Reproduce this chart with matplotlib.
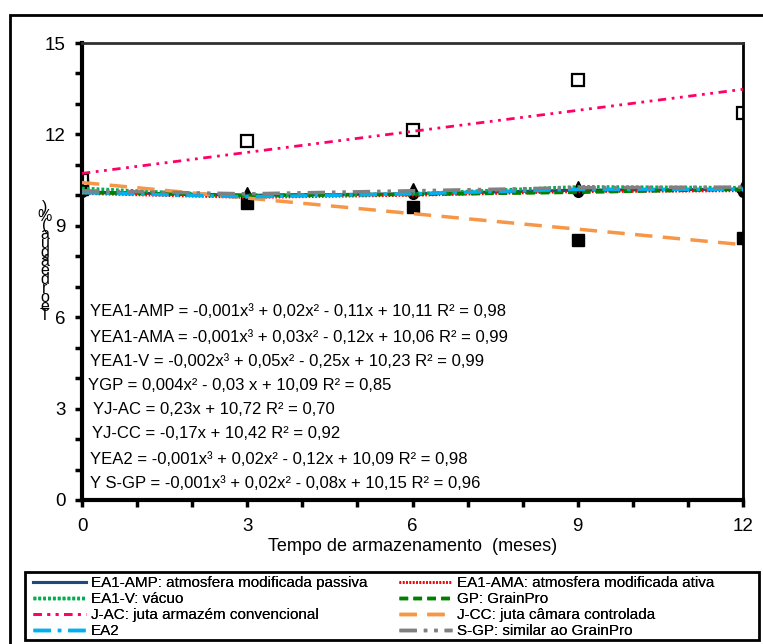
import numpy as np
import matplotlib
matplotlib.use("Agg")
import matplotlib.pyplot as plt
from matplotlib.patches import Rectangle
from matplotlib.ticker import MultipleLocator

plt.rcParams['font.family'] = ['Liberation Sans', 'DejaVu Sans']

# tempo de armazenamento (meses)
meses = [0, 3, 6, 9, 12]

# pontos observados (marcadores)
pts_jac = [10.5, 11.78, 12.14, 13.78, 12.70]
pts_jcc = [10.35, 9.75, 9.62, 8.55, 8.6]
pts_tri = [10.2, 10.07, 10.2, 10.27, 10.3]
pts_circ = [10.1, 9.95, 10.05, 10.1, 10.1]

# linhas de tendencia
tend_amp = [10.11, 10.0, 10.05, 10.17, 10.2]
tend_ama = [10.06, 9.93, 10.0, 10.12, 10.15]
tend_v = [10.23, 9.97, 10.05, 10.28, 10.25]
tend_gp = [10.09, 10.0, 10.03, 10.1, 10.2]
tend_jac = [10.72, 11.41, 12.10, 12.79, 13.48]
tend_jcc = [10.42, 9.91, 9.40, 8.89, 8.38]
tend_ea2 = [10.09, 9.95, 10.05, 10.2, 10.2]
tend_sgp = [10.15, 10.05, 10.15, 10.25, 10.27]

legendas = ["EA1-AMP: atmosfera modificada passiva",
            "EA1-AMA: atmosfera modificada ativa",
            "EA1-V: vácuo",
            "GP: GrainPro",
            "J-AC: juta armazém convencional",
            "J-CC: juta câmara controlada",
            "EA2",
            "S-GP: similar ao GrainPro"]

equacoes = ["YEA1-AMP = -0,001x³ + 0,02x² - 0,11x + 10,11 R² = 0,98",
            "YEA1-AMA = -0,001x³ + 0,03x² - 0,12x + 10,06 R² = 0,99",
            "YEA1-V = -0,002x³ + 0,05x² - 0,25x + 10,23 R² = 0,99",
            "YGP = 0,004x² - 0,03 x + 10,09 R² = 0,85",
            "YJ-AC = 0,23x + 10,72 R² = 0,70",
            "YJ-CC = -0,17x + 10,42 R² = 0,92",
            "YEA2 = -0,001x³ + 0,02x² - 0,12x + 10,09 R² = 0,98",
            "Y S-GP = -0,001x³ + 0,02x² - 0,08x + 10,15 R² = 0,96"]

W, H = 763, 644
fig = plt.figure(figsize=(W / 100, H / 100), dpi=100)
ax = fig.add_axes([82 / W, 1 - 500 / H, 661 / W, 457 / H])

# marcadores
ax.plot(meses, pts_circ, 'o', color='black', ms=7, zorder=2)
ax.plot(meses, pts_tri, '^', color='black', ms=9, zorder=2)
ax.plot(meses, pts_jcc, 's', color='black', ms=8, zorder=2)
ax.plot(meses, pts_jac, 's', mfc='white', mec='black', mew=1.6, ms=8.5, zorder=2)

# tendencias
l1, = ax.plot(meses, tend_amp, '-', color='#1f497d', lw=2.2, zorder=3)
l2, = ax.plot(meses, tend_ama, color='#ff0000', lw=2, ls=(0, (0.6, 0.6)), zorder=3)
l3, = ax.plot(meses, tend_v, color='#00b050', lw=2.5, ls=(0, (0.8, 0.6)), zorder=3)
l4, = ax.plot(meses, tend_gp, color='#008000', lw=2.5, ls=(0, (2.5, 1.5)), zorder=3)
l5, = ax.plot(meses, tend_jac, color='#ff0066', lw=2, ls=(0, (3, 2, 1, 2, 1, 2)), zorder=3)
l6, = ax.plot(meses, tend_jcc, color='#f79646', lw=2.5, ls=(0, (5, 3)), zorder=3)
l7, = ax.plot(meses, tend_ea2, color='#00b0f0', lw=2.5, ls=(0, (5, 2, 1, 2)), zorder=3)
l8, = ax.plot(meses, tend_sgp, color='#808080', lw=2.5, ls=(0, (5, 2, 1, 2, 1, 2)), zorder=3)
linhas = [l1, l2, l3, l4, l5, l6, l7, l8]

ax.set_xlim(0, 12)
ax.set_ylim(0, 15)
ax.xaxis.set_major_locator(MultipleLocator(3))
ax.xaxis.set_minor_locator(MultipleLocator(1))
ax.yaxis.set_major_locator(MultipleLocator(3))
ax.yaxis.set_minor_locator(MultipleLocator(1))
ax.tick_params(which='both', direction='out', width=2.5, length=5, labelsize=13.5)
ax.tick_params(axis='y', pad=7)
ax.tick_params(axis='x', pad=8)
for s in ['left', 'bottom']:
    ax.spines[s].set_linewidth(3)
ax.spines['right'].set_linewidth(2)
ax.spines['top'].set_linewidth(2)
ax.spines['top'].set_color('#303030')

ax.set_xlabel("Tempo de armazenamento  (meses)", fontsize=13, labelpad=2)

# rotulo y empilhado
rot = [")", "%", "(", "a", "u", "g", "á", "e", "d", "r", "o", "e", "T"]
fig.text(45 / W, 1 - 262 / H, "\n".join(rot), ha='center', va='center',
         fontsize=11.5, linespacing=0.5)

# equacoes
eq_x = [90, 90, 90, 88, 93, 92, 90, 90]
eq_y = [311, 337, 362, 386, 410, 433, 459, 484]
for t, x, y in zip(equacoes, eq_x, eq_y):
    fig.text(x / W, 1 - y / H, t, fontsize=12, ha='left', va='center')

# moldura externa
fig.add_artist(Rectangle((10 / W, -0.05), 1.2, 1 - 15 / H + 0.05, transform=fig.transFigure,
                         fill=False, lw=2, ec='black'))

# moldura da legenda
fig.add_artist(Rectangle((25 / W, 1 - 640 / H), 734 / W, 68 / H, transform=fig.transFigure,
                         fill=True, fc='white', lw=2, ec='black', zorder=4))

# legenda em duas colunas (itens pares a esquerda, impares a direita)
for col, x0 in [(0, 33), (1, 399)]:
    idx = list(range(col, 8, 2))
    leg = fig.legend([linhas[i] for i in idx], [legendas[i] for i in idx],
                     loc='upper left', bbox_to_anchor=(x0 / W, 1 - 576 / H),
                     borderaxespad=0, borderpad=0, fontsize=11, handlelength=3.5,
                     handletextpad=0.3, labelspacing=0.14, frameon=False)
    leg.set_zorder(5)
    fig.add_artist(leg)

fig.savefig("out.png", dpi=100)
